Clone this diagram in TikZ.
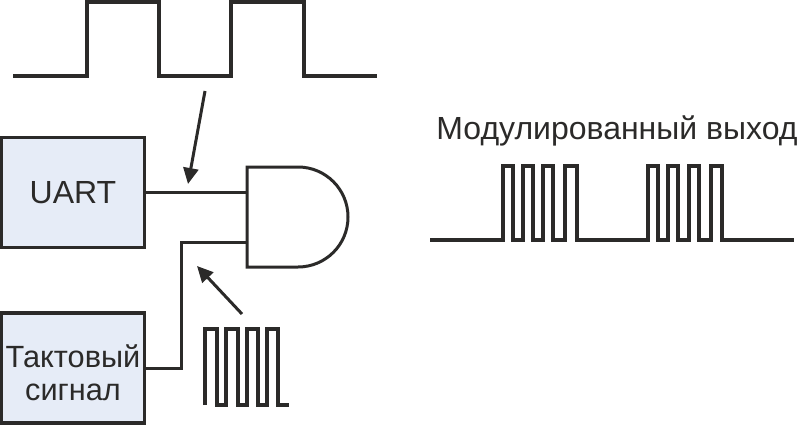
\documentclass[tikz,border=0pt]{standalone}
\usepackage{fontspec}
\setmainfont{Liberation Sans}
\usetikzlibrary{arrows.meta, positioning}
\definecolor{wireblack}{HTML}{2b2a29}
\definecolor{lightblue}{HTML}{e6ecf7}
\tikzset{
	blockbox/.style={draw=wireblack, fill=lightblue, line width=3.3pt, minimum width=143pt, minimum height=110pt, align=center, inner sep=0pt, text=wireblack},
	wave/.style={draw=wireblack, line width=3.8pt, line join=miter},
	thinwave/.style={draw=wireblack, line width=3.3pt, line join=miter},
	wire/.style={draw=wireblack, line width=3pt},
	pointer/.style={draw=wireblack, line width=3pt, -{Triangle[length=16pt, width=15pt]}}
}
\begin{document}
\begin{tikzpicture}[x=1pt, y=-1pt]
				\useasboundingbox (0,0) rectangle (799,425);
				\node[blockbox, font=\fontsize{32}{38}\selectfont] (uart) at (73,192.5) {UART};
				\node[blockbox, font=\fontsize{30.7}{33}\selectfont] (clock) at (73,368) {\rule{0pt}{33pt}Тактовый\\сигнал};
				\node[text=wireblack, font=\fontsize{32}{38}\selectfont, anchor=base, inner sep=0pt] (outlabel) at (617,139.5) {Модулированный выход};
				\coordinate (gatea) at (247,192);
				\coordinate (gateb) at (247,242);
				\coordinate (bend) at (181,242);
				\coordinate (uartend) at (uart.east |- gatea);
				\draw[wire] (247,167) -- (298,167) arc[start angle=-90, end angle=90, radius=50] -- (247,267) -- cycle;
				\draw[wire] (uartend) -- (gatea);
				\draw[wire] (clock.east) -| (bend) -- (gateb);
				\draw[wave] (13,76) -- (87,76) -- (87,2) -- (159,2) -- (159,76) -- (231,76) -- (231,2) -- (304,2) -- (304,76) -- (377,76);
				\draw[thinwave] (205,405) -- (205,329) -- (217,329) -- (217,405) -- (226,405) -- (226,329) -- (238,329) -- (238,405) -- (247,405) -- (247,329) -- (258,329) -- (258,405) -- (267,405) -- (267,329) -- (278,329) -- (278,405) -- (289,405);
				\draw[wave] (430,240) -- (503,240) -- (503,166) -- (513,166) -- (513,240) -- (523,240) -- (523,166) -- (533,166) -- (533,240) -- (543,240) -- (543,166) -- (553,166) -- (553,240) -- (565,240) -- (565,166) -- (577,166) -- (577,240) -- (648,240) -- (648,166) -- (658,166) -- (658,240) -- (668,240) -- (668,166) -- (678,166) -- (678,240) -- (689,240) -- (689,166) -- (699,166) -- (699,240) -- (711,240) -- (711,166) -- (722,166) -- (722,240) -- (794,240);
				\coordinate (uartfrom) at (205,91);
				\coordinate (uartto) at (188,184);
				\coordinate (clockfrom) at (242,314);
				\coordinate (clockto) at (197,266);
				\draw[pointer] (uartfrom) -- (uartto);
				\draw[pointer] (clockfrom) -- (clockto);
			\end{tikzpicture}
\end{document}
